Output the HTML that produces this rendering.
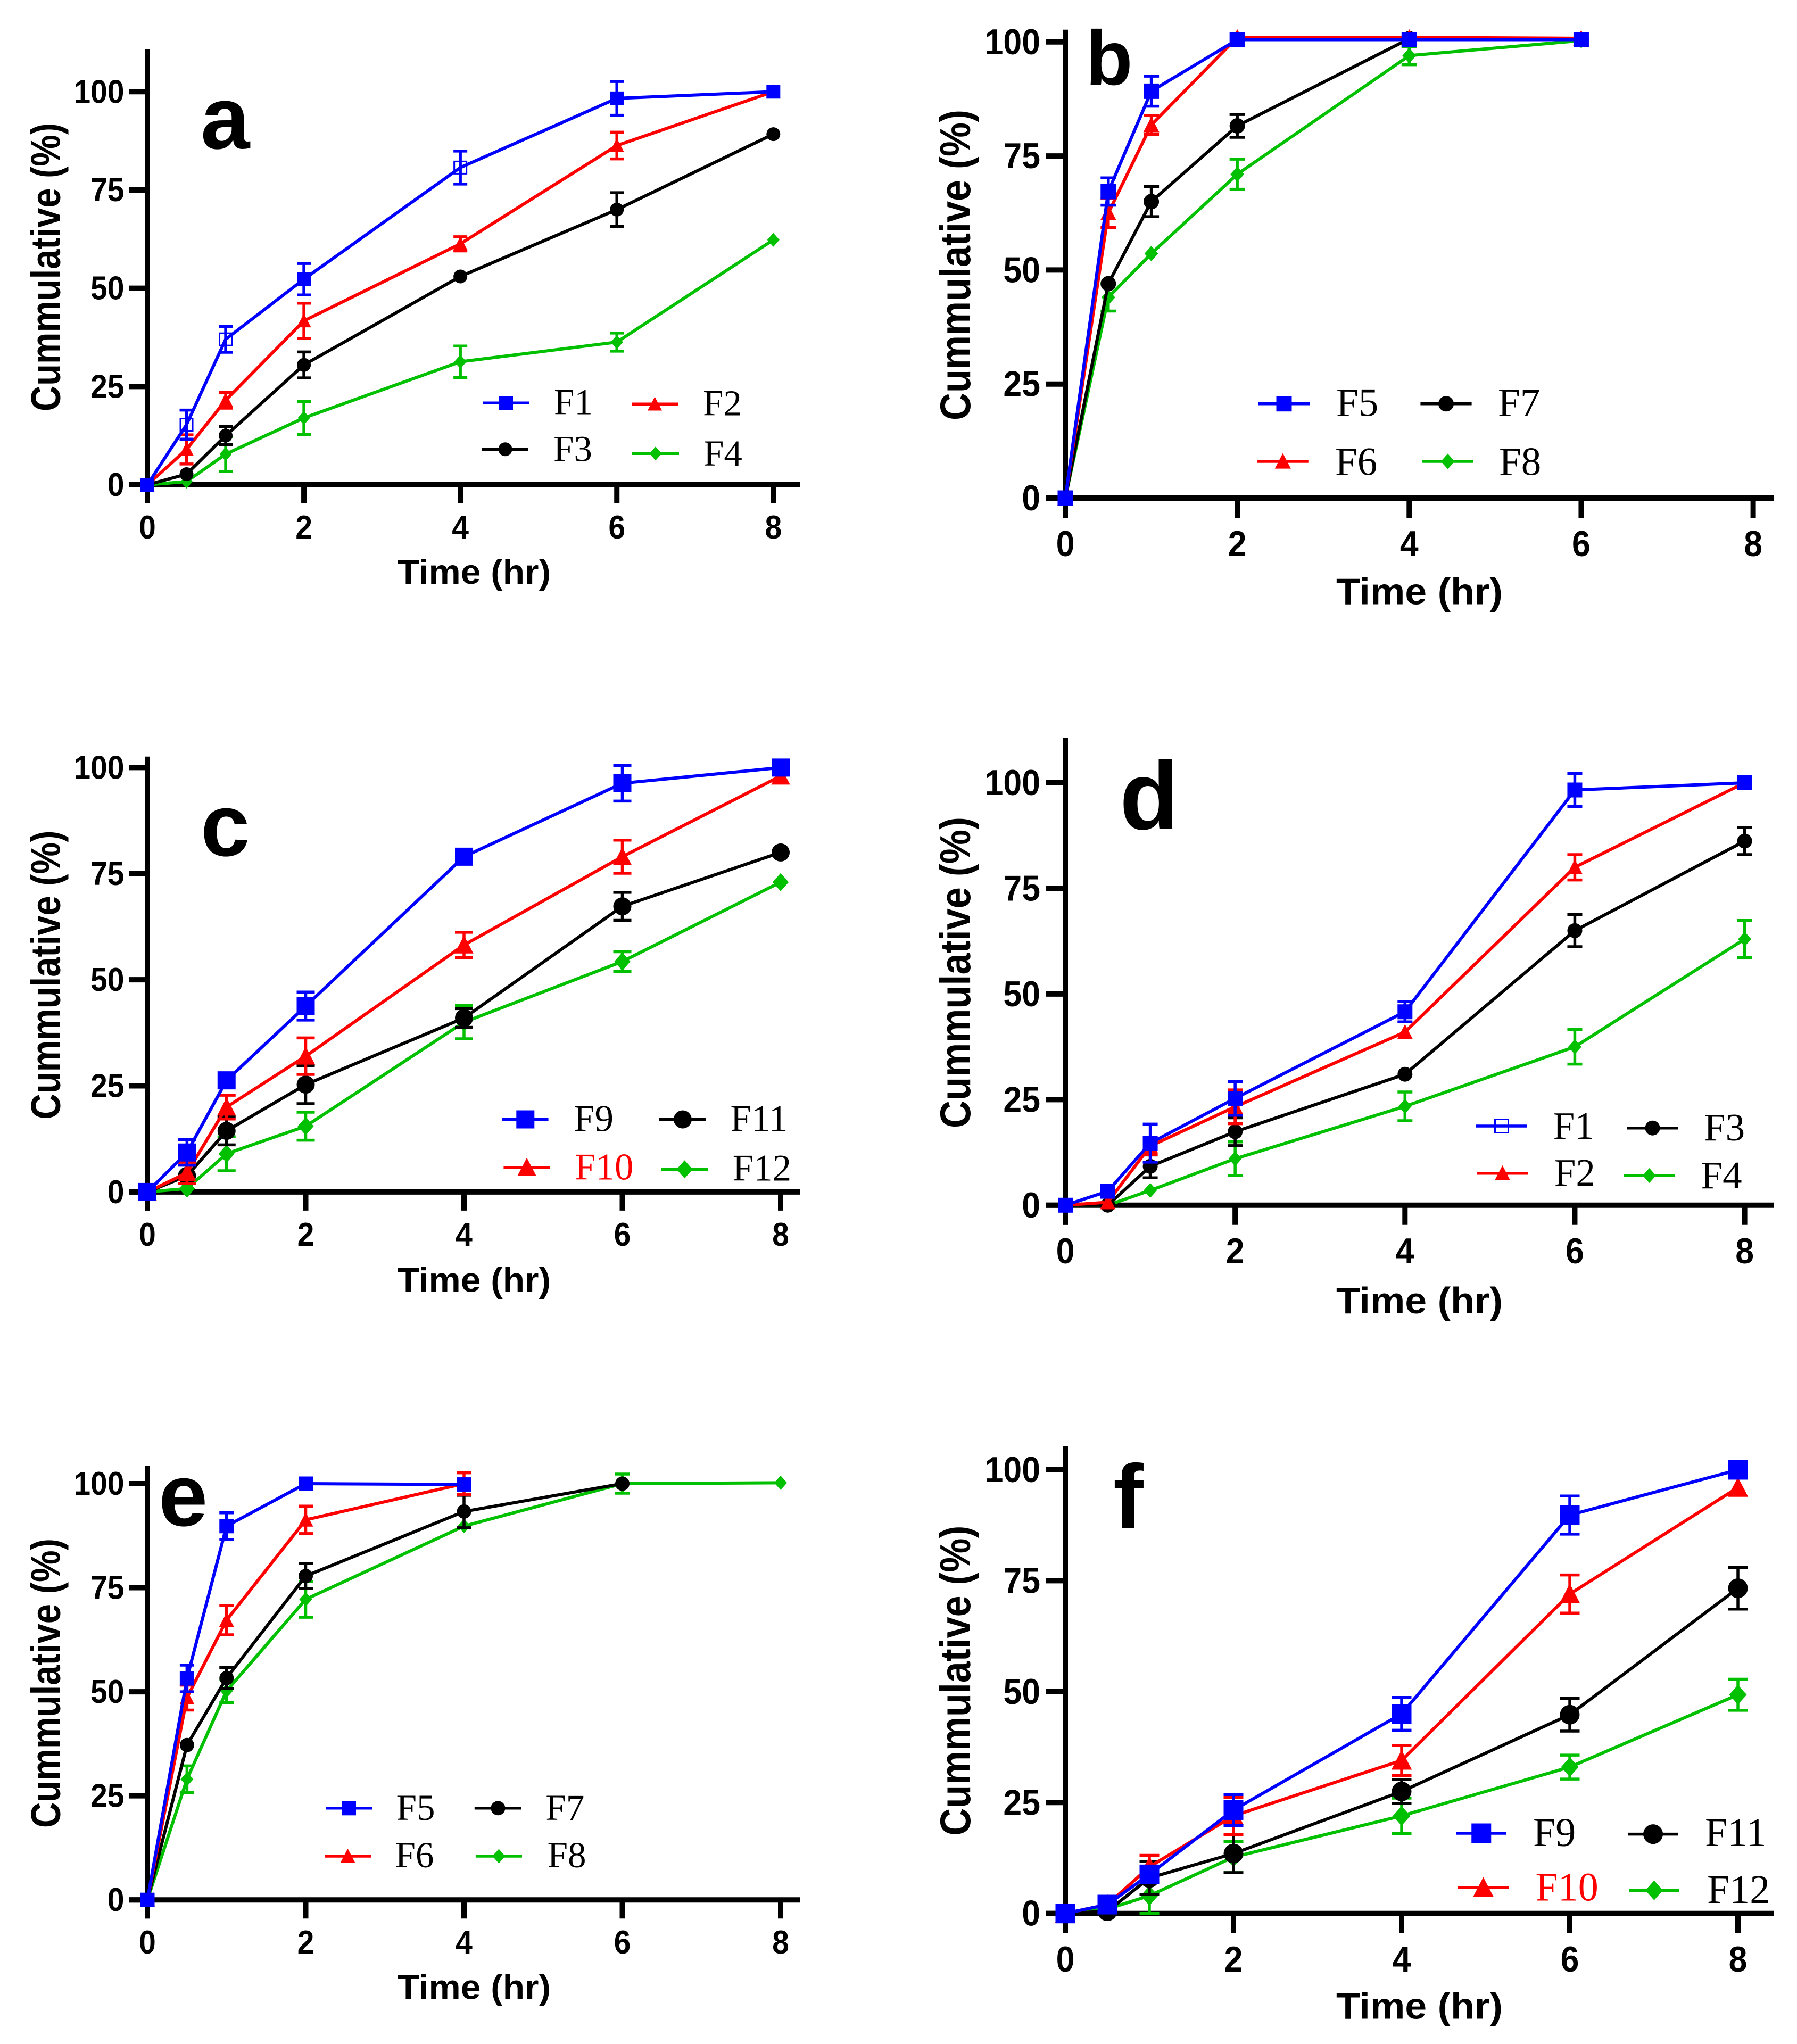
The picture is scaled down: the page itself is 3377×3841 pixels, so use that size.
<!DOCTYPE html>
<html lang="en">
<head>
<meta charset="utf-8">
<title>Cumulative release charts</title>
<style>
html,body{margin:0;padding:0;background:#fff}
svg{display:block}
.num,.axt,.letter{font-family:"Liberation Sans",Arial,sans-serif;font-weight:700;fill:#000}
.leg{font-family:"Liberation Serif","Times New Roman",serif;font-weight:400}
</style>
</head>
<body>
<svg id="fig" xmlns="http://www.w3.org/2000/svg" width="3377" height="3841" viewBox="0 0 3377 3841"></svg>
<script>
// ---- chart data ----
const timeTicks = [0, 2, 4, 6, 8];
const yTicks = [0, 25, 50, 75, 100];
const timesFull = [0, 0.5, 1, 2, 4, 6, 8];
const timesTo6 = [0, 0.5, 1, 2, 4, 6];
const timesTo4 = [0, 0.5, 1, 2, 4];

const aF1 = [0, 15.3, 37, 52.3, 80.7, 98.3, 100];
const aF1Err = [0, 3.7, 3.3, 4, 4.2, 4.3, 0];
const aF1Hollow = [0.5, 1, 4];
const aF2 = [0, 9, 21.5, 41.7, 61.3, 86.3, 100];
const aF2Err = [0, 3.7, 2, 4.5, 1.8, 3.4, 0];
const aF3 = [0, 2.7, 12.5, 30.5, 53, 70, 89.2];
const aF3Err = [0, 0, 2.3, 3.3, 0, 4.3, 0];
const aF4 = [0, 0.8, 7.8, 17, 31.3, 36.3, 62.3];
const aF4Err = [0, 0, 4.4, 4.2, 4, 2.3, 0];

const bF5 = [0, 67.2, 89.2, 100.5, 100.5, 100.5];
const bF5Err = [0, 3, 3.3, 0, 0, 0];
const bF6 = [0, 62.5, 81.8, 101, 101, 100.8];
const bF6Err = [0, 3.2, 2.1, 0, 0, 0];
const bF7 = [0, 47, 65, 81.6, 100.7, 100.5];
const bF7Err = [0, 0, 3.3, 2.5, 0, 0];
const bF8 = [0, 44, 53.6, 71, 97, 100.3];
const bF8Err = [0, 3, 0, 3.3, 2, 0];

const cF9 = [0, 9.3, 26.3, 43.8, 79, 96.3, 100];
const cF9Err = [0, 3, 0, 3.3, 0, 4.2, 0];
const cF10 = [0, 4.5, 20, 32, 58.2, 79, 98];
const cF10Err = [0, 2.5, 2.8, 4.3, 3, 3.9, 0];
const cF11 = [0, 3.8, 14.4, 25.3, 41, 67.3, 80];
const cF11Err = [0, 0, 3.3, 4.5, 2.2, 3.3, 0];
const cF12 = [0, 0.8, 9, 15.5, 40, 54.3, 73];
const cF12Err = [0, 0, 4, 3.3, 3.9, 2.3, 0];

const dF1 = [0, 3.3, 14.7, 25.3, 45.8, 98.3, 100];
const dF1Err = [0, 0, 4.5, 4, 2.4, 3.9, 0];
const dF2 = [0, 0.7, 14, 23.3, 41, 80, 100];
const dF2Err = [0, 0, 2, 4, 0, 3, 0];
const dF3 = [0, 0, 9.2, 17.4, 31, 65, 86.2];
const dF3Err = [0, 0, 2.7, 3.3, 0, 3.8, 3.2];
const dF4 = [0, 0, 3.5, 11, 23.4, 37.5, 63];
const dF4Err = [0, 0, 0, 4, 3.4, 4.1, 4.4];

const eF5 = [0, 53.2, 89.8, 100, 99.8];
const eF5Err = [0, 3.2, 3.2, 0, 0];
const eF6 = [0, 48.6, 67.2, 91.3, 100];
const eF6Err = [0, 3, 3.5, 3.3, 2.6];
const eF7 = [0, 37.2, 53.3, 77.8, 93.3, 100];
const eF7Err = [0, 0, 2.5, 3, 3.9, 0];
const eF8 = [0, 29, 50.2, 72.2, 89.8, 100, 100.2];
const eF8Err = [0, 3.2, 2.8, 4.3, 0, 2.3, 0];

const fF9 = [0, 2, 8.8, 23.3, 45, 89.8, 100];
const fF9Err = [0, 0, 0, 3.5, 3.7, 4.3, 0];
const fF10 = [0, 2, 10.5, 22, 34.5, 72, 96];
const fF10Err = [0, 0, 2.6, 4.2, 3.4, 4.3, 0];
const fF11 = [0, 0.5, 8, 13.5, 27.5, 44.8, 73.3];
const fF11Err = [0, 0, 3.7, 4.3, 2.7, 3.7, 4.7];
const fF12 = [0, 1, 4, 12.7, 22, 33, 49.3];
const fF12Err = [0, 0, 4, 3.5, 4, 2.7, 3.5];

// ---- series styling ----
const BLUE = '#0000ff', RED = '#ff0000', BLACK = '#000000', GREEN = '#00c000';

function seriesSet(names, xs, ys, errs, extra) {
  const cols = [BLUE, RED, BLACK, GREEN];
  const shapes = ['square', 'triangle', 'circle', 'diamond'];
  return names.map((n, i) => ({
    name: n, x: xs[i], y: ys[i], err: errs[i], color: cols[i], shape: shapes[i],
    hollow: (extra && extra[i]) || []
  }));
}

const panels = [
  { id: 'a',
    box: { x0: 277, x8: 1453.3, xEnd: 1503, y0: 911, y100: 172.3, top: 93 },
    size: 26, numSize: 62, xBase: 101, yBase: 21, yRight: 233.5, tl: 34, td: 35,
    letter: { x: 377, y: 279, size: 166 },
    yTitle: { x: 112.5, y1: 231, y2: 773, size: 78 },
    xTitle: { x1: 746.6, x2: 1035, y: 1097, size: 65 },
    series: seriesSet(['F1', 'F2', 'F3', 'F4'], [timesFull, timesFull, timesFull, timesFull],
      [aF1, aF2, aF3, aF4], [aF1Err, aF2Err, aF3Err, aF4Err], [aF1Hollow]),
    legend: [
      { lx1: 907, lx2: 995, ly: 757.3, tx: 1041, ty: 778.7 },
      { lx1: 1187, lx2: 1274, ly: 759.3, tx: 1321, ty: 780.7 },
      { lx1: 906, lx2: 993, ly: 844.3, tx: 1040, ty: 866.7 },
      { lx1: 1188, lx2: 1276, ly: 852.3, tx: 1322, ty: 875 }
    ], legSize: 69 },
  { id: 'b',
    box: { x0: 2002, x8: 3294.6, xEnd: 3334, y0: 936, y100: 78.8, top: 55.8 },
    size: 29, numSize: 68, xBase: 109, yBase: 23, yRight: 1955, tl: 37, td: 37,
    letter: { x: 2040, y: 159, size: 145 },
    yTitle: { x: 1823, y1: 206, y2: 790, size: 81 },
    xTitle: { x1: 2511, x2: 2824, y: 1135.7, size: 70 },
    series: seriesSet(['F5', 'F6', 'F7', 'F8'], [timesTo6, timesTo6, timesTo6, timesTo6],
      [bF5, bF6, bF7, bF8], [bF5Err, bF6Err, bF7Err, bF8Err]),
    legend: [
      { lx1: 2365, lx2: 2461, ly: 758.7, tx: 2511, ty: 781.6 },
      { lx1: 2362.7, lx2: 2458.8, ly: 867, tx: 2509, ty: 892.5 },
      { lx1: 2669.4, lx2: 2765.6, ly: 758.7, tx: 2815, ty: 781.6 },
      { lx1: 2672.6, lx2: 2768.8, ly: 867, tx: 2817, ty: 892.5 }
    ], legSize: 75 },
  { id: 'c',
    box: { x0: 277, x8: 1467, xEnd: 1503, y0: 2239.9, y100: 1442.4, top: 1421.8 },
    size: 34, numSize: 62, xBase: 101, yBase: 21, yRight: 233.5, tl: 34, td: 35,
    letter: { x: 377, y: 1608, size: 166 },
    yTitle: { x: 112.5, y1: 1560.6, y2: 2103.5, size: 78 },
    xTitle: { x1: 746.6, x2: 1035, y: 2427.5, size: 65 },
    series: seriesSet(['F9', 'F10', 'F11', 'F12'], [timesFull, timesFull, timesFull, timesFull],
      [cF9, cF10, cF11, cF12], [cF9Err, cF10Err, cF11Err, cF12Err]),
    legend: [
      { lx1: 944, lx2: 1030.6, ly: 2103.5, tx: 1078, ty: 2125.5 },
      { lx1: 946.4, lx2: 1033.7, ly: 2193.7, tx: 1080, ty: 2216.4, red: true },
      { lx1: 1238.8, lx2: 1327, ly: 2103.5, tx: 1372.5, ty: 2125.5 },
      { lx1: 1243, lx2: 1330, ly: 2197.4, tx: 1376.7, ty: 2218.6 }
    ], legSize: 71 },
  { id: 'd',
    box: { x0: 2002, x8: 3278.6, xEnd: 3334, y0: 2264.8, y100: 1471, top: 1386.6 },
    size: 28, numSize: 68, xBase: 109, yBase: 23, yRight: 1955, tl: 37, td: 37,
    letter: { x: 2104, y: 1558, size: 182 },
    yTitle: { x: 1823, y1: 1535, y2: 2120, size: 81 },
    xTitle: { x1: 2511, x2: 2824, y: 2467.8, size: 70 },
    series: seriesSet(['F1', 'F2', 'F3', 'F4'], [timesFull, timesFull, timesFull, timesFull],
      [dF1, dF2, dF3, dF4], [dF1Err, dF2Err, dF3Err, dF4Err]),
    legend: [
      { lx1: 2774, lx2: 2870, ly: 2116, tx: 2918.6, ty: 2140, hollow: true },
      { lx1: 2776, lx2: 2871, ly: 2204.7, tx: 2920.8, ty: 2228 },
      { lx1: 3057.4, lx2: 3153.6, ly: 2119.7, tx: 3202, ty: 2143 },
      { lx1: 3052, lx2: 3147, ly: 2209, tx: 3196.5, ty: 2233 }
    ], legSize: 73 },
  { id: 'e',
    box: { x0: 277, x8: 1467, xEnd: 1503, y0: 3570.2, y100: 2788, top: 2754 },
    size: 27, numSize: 62, xBase: 101, yBase: 21, yRight: 233.5, tl: 34, td: 35,
    letter: { x: 298, y: 2867, size: 166 },
    yTitle: { x: 112.5, y1: 2891, y2: 3435, size: 78 },
    xTitle: { x1: 746.6, x2: 1035, y: 3756.7, size: 65 },
    series: seriesSet(['F5', 'F6', 'F7', 'F8'], [timesTo4, timesTo4, timesTo6, timesFull],
      [eF5, eF6, eF7, eF8], [eF5Err, eF6Err, eF7Err, eF8Err]),
    legend: [
      { lx1: 612, lx2: 699, ly: 3397.8, tx: 744.6, ty: 3420 },
      { lx1: 610, lx2: 697, ly: 3488, tx: 742.5, ty: 3508.8 },
      { lx1: 891.8, lx2: 980, ly: 3397.8, tx: 1025.4, ty: 3420 },
      { lx1: 893.9, lx2: 981, ly: 3488, tx: 1028.6, ty: 3508.8 }
    ], legSize: 69 },
  { id: 'f',
    box: { x0: 2002, x8: 3266, xEnd: 3334, y0: 3595.7, y100: 2762, top: 2717 },
    size: 37, numSize: 68, xBase: 109.5, yBase: 23, yRight: 1955, tl: 37, td: 37,
    letter: { x: 2092, y: 2871, size: 170 },
    yTitle: { x: 1823, y1: 2866.7, y2: 3449.6, size: 81 },
    xTitle: { x1: 2511, x2: 2824, y: 3793.7, size: 70 },
    series: seriesSet(['F9', 'F10', 'F11', 'F12'], [timesFull, timesFull, timesFull, timesFull],
      [fF9, fF10, fF11, fF12], [fF9Err, fF10Err, fF11Err, fF12Err]),
    legend: [
      { lx1: 2736.7, lx2: 2830.8, ly: 3445, tx: 2881, ty: 3468.8 },
      { lx1: 2740, lx2: 2835, ly: 3547, tx: 2885.5, ty: 3571.7, red: true },
      { lx1: 3059.5, lx2: 3153.6, ly: 3446.6, tx: 3204, ty: 3468.8 },
      { lx1: 3061, lx2: 3156, ly: 3552.3, tx: 3208, ty: 3576 }
    ], legSize: 76 }
];

// ---- drawing helpers ----
const NS = 'http://www.w3.org/2000/svg';
const root = document.getElementById('fig');
function mk(parent, tag, attrs) {
  const el = document.createElementNS(NS, tag);
  for (const k in attrs) el.setAttribute(k, attrs[k]);
  parent.appendChild(el);
  return el;
}
function drawMarker(g, shape, cx, cy, s, color, hollow, label) {
  let el;
  if (shape === 'square') {
    el = hollow
      ? mk(g, 'rect', { x: cx - s / 2 + 1.5, y: cy - s / 2 + 1.5, width: s - 3, height: s - 3, fill: 'none', stroke: color, 'stroke-width': 3 })
      : mk(g, 'rect', { x: cx - s / 2, y: cy - s / 2, width: s, height: s, fill: color });
  } else if (shape === 'circle') {
    el = mk(g, 'circle', { cx: cx, cy: cy, r: s / 2, fill: color });
  } else if (shape === 'triangle') {
    const w = s * 0.52;
    el = mk(g, 'polygon', { points: `${cx},${cy - s * 0.53} ${cx + w},${cy + s * 0.47} ${cx - w},${cy + s * 0.47}`, fill: color });
  } else {
    const dx = s * 0.445, dy = s * 0.5;
    el = mk(g, 'polygon', { points: `${cx},${cy - dy} ${cx + dx},${cy} ${cx},${cy + dy} ${cx - dx},${cy}`, fill: color });
  }
  
  
}

function drawPanel(p) {
  const b = p.box;
  const sx = v => b.x0 + (b.x8 - b.x0) * v / 8;
  const sy = v => b.y0 + (b.y100 - b.y0) * v / 100;
  const AX = 10, NUMX = 0.92;
  const cap = p.size / 2;

  const g = mk(root, 'g', {});
  
  

  // axes
  const axes = mk(g, 'g', { stroke: '#000', 'stroke-width': AX, fill: 'none' });
  
  
  const yAxis = mk(axes, 'line', { x1: b.x0, x2: b.x0, y1: b.top, y2: b.y0 + p.td });
  
  
  const xAxis = mk(axes, 'line', { x1: b.x0 - p.tl, x2: b.xEnd, y1: b.y0, y2: b.y0 });
  
  

  yTicks.forEach(v => {
    const t = mk(axes, 'line', { x1: b.x0 - p.tl, x2: b.x0, y1: sy(v), y2: sy(v) });
    
    
    const lab = mk(g, 'text', { class: 'num', 'text-anchor': 'end', 'font-size': p.numSize,
      transform: `translate(${p.yRight},${sy(v) + p.yBase}) scale(${NUMX},1)` });
    lab.textContent = v;
    
    
  });
  timeTicks.forEach(v => {
    const t = mk(axes, 'line', { x1: sx(v), x2: sx(v), y1: b.y0, y2: b.y0 + p.td });
    
    
    const lab = mk(g, 'text', { class: 'num', 'text-anchor': 'middle', 'font-size': p.numSize,
      transform: `translate(${sx(v)},${b.y0 + p.xBase}) scale(${NUMX},1)` });
    lab.textContent = v;
    
    
  });

  // titles
  const xt = mk(g, 'text', { class: 'axt', x: p.xTitle.x1, y: p.xTitle.y, 'font-size': p.xTitle.size,
    textLength: p.xTitle.x2 - p.xTitle.x1, lengthAdjust: 'spacingAndGlyphs' });
  xt.textContent = 'Time (hr)';
  
  

  const yt = mk(g, 'text', { class: 'axt', 'font-size': p.yTitle.size,
    transform: `translate(${p.yTitle.x},${p.yTitle.y2}) rotate(-90)`,
    textLength: p.yTitle.y2 - p.yTitle.y1, lengthAdjust: 'spacingAndGlyphs' });
  yt.textContent = 'Cummulative (%)';
  
  

  const letter = mk(g, 'text', { class: 'letter', x: p.letter.x, y: p.letter.y, 'font-size': p.letter.size });
  letter.textContent = p.id;
  
  

  // series, drawn in reverse so the first series stays on top
  p.series.slice().reverse().forEach(s => {
    const sg = mk(g, 'g', {});
    
    
    const pts = s.x.map((t, i) => sx(t) + ',' + sy(s.y[i])).join(' ');
    const line = mk(sg, 'polyline', { points: pts, fill: 'none', stroke: s.color, 'stroke-width': 6, 'stroke-linejoin': 'miter' });
    
    
    s.x.forEach((t, i) => {
      const e = s.err[i];
      const cx = sx(t), hi = sy(s.y[i] + e), lo = sy(s.y[i] - e);
      if (e > 0) {
        const eb = mk(sg, 'path', {
          d: `M${cx},${hi}V${lo}M${cx - cap},${hi}H${cx + cap}M${cx - cap},${lo}H${cx + cap}`,
          fill: 'none', stroke: s.color, 'stroke-width': 5.5 });
        
        
      }
      drawMarker(sg, s.shape, cx, sy(s.y[i]), p.size, s.color, s.hollow.indexOf(t) >= 0, 'point-' + s.name);
    });
  });

  // legend
  const lg = mk(g, 'g', {});
  
  
  p.legend.forEach((l, i) => {
    const s = p.series[i];
    const e = mk(lg, 'g', {});
    
    
    mk(e, 'line', { x1: l.lx1, x2: l.lx2, y1: l.ly, y2: l.ly, stroke: s.color, 'stroke-width': 5.5 });
    drawMarker(e, s.shape, (l.lx1 + l.lx2) / 2, l.ly, p.size, s.color, !!l.hollow, 'legend-marker-' + s.name);
    const tx = mk(e, 'text', { class: 'leg', x: l.tx, y: l.ty, 'font-size': p.legSize, fill: l.red ? RED : '#000' });
    tx.textContent = s.name;
    
    
  });
}
panels.forEach(drawPanel);
</script>
</body>
</html>
